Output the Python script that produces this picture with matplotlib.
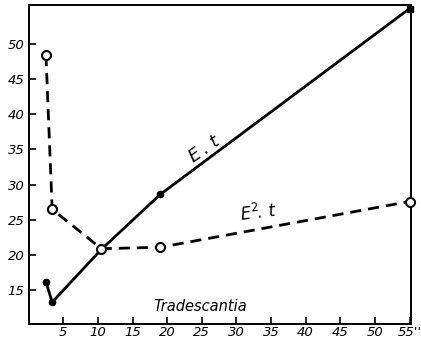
import matplotlib
matplotlib.use("Agg")
import matplotlib.pyplot as plt

# Exposure time series for Tradescantia
et_x = [2.5, 3.4, 10.5, 19.0, 55.0]
et_y = [16.2, 13.3, 20.8, 28.6, 55.0]
et_filled = [0, 1, 3]

e2t_x = [2.5, 3.4, 10.5, 19.0, 55.0]
e2t_y = [48.4, 26.5, 20.9, 21.1, 27.6]

x_ticks = [5, 10, 15, 20, 25, 30, 35, 40, 45, 50, 55]
x_tick_labels = ["5", "10", "15", "20", "25", "30", "35", "40", "45", "50", "55''"]
y_ticks = [15, 20, 25, 30, 35, 40, 45, 50]

fig = plt.figure(figsize=(4.21, 3.40), dpi=100)
ax = fig.add_axes([0.068, 0.047, 0.908, 0.938])

# E.t solid curve
ax.plot(et_x, et_y, color="black", lw=2.0, solid_capstyle="round", zorder=3)
ax.plot([et_x[i] for i in et_filled], [et_y[i] for i in et_filled],
        "o", color="black", ms=4.5, zorder=4)
ax.plot([et_x[-1]], [et_y[-1]], "s", color="black", ms=5, zorder=4, clip_on=False)

# E^2.t dashed curve
ax.plot(e2t_x, e2t_y, color="black", lw=2.0, dashes=(4, 2.5), zorder=3)
ax.plot(e2t_x, e2t_y, "o", mfc="white", mec="black", mew=1.5, ms=6.5,
        zorder=5, clip_on=False)

ax.set_xlim(0, 55.2)
ax.set_ylim(10.2, 55.5)
ax.set_xticks(x_ticks)
ax.set_xticklabels(x_tick_labels)
ax.set_yticks(y_ticks)
ax.tick_params(direction="in", length=5, width=1.2, labelsize=9.5)
ax.tick_params(axis="x", pad=1.5)
ax.tick_params(axis="y", pad=3)
for lab in ax.get_xticklabels() + ax.get_yticklabels():
    lab.set_fontstyle("italic")
for s in ax.spines.values():
    s.set_linewidth(1.4)

ax.text(25.5, 35.0, r"$E\,.\,t$", fontsize=13, rotation=35,
        ha="center", va="center")
ax.text(33.2, 26.0, r"$E^{2}\!.\,t$", fontsize=12, rotation=7,
        ha="center", va="center")
ax.text(24.8, 12.7, "Tradescantia", fontsize=10.5, style="italic",
        ha="center", va="center")

fig.savefig("out.png", dpi=100)
